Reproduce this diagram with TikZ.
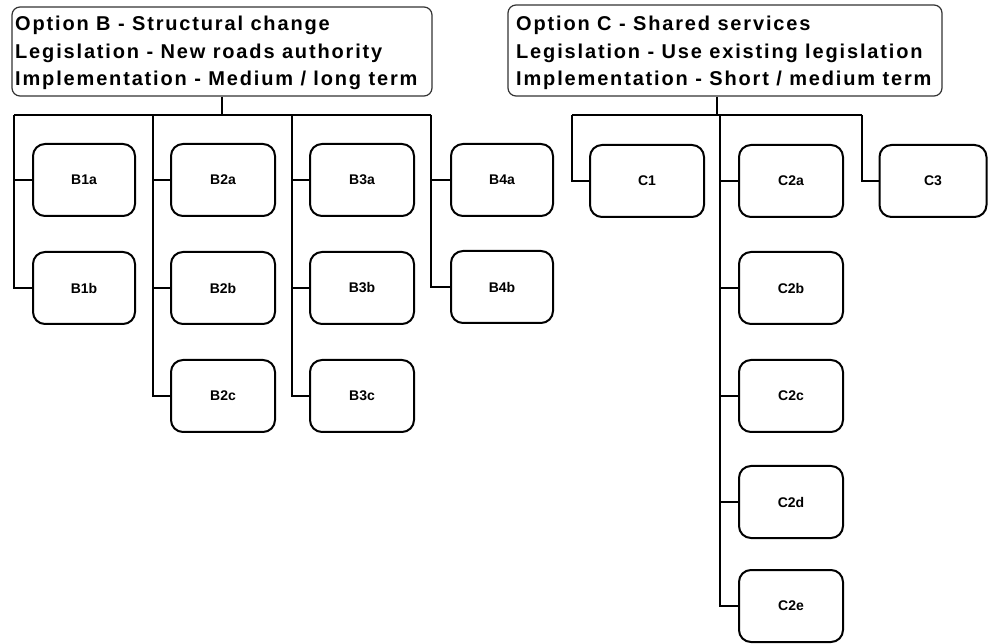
\documentclass[tikz,border=0pt]{standalone}
\usepackage{fontspec}
\setmainfont{Liberation Sans}
\newfontfamily\hdrfont[LetterSpace=9.2]{Liberation Sans}
\begin{document}
\begin{tikzpicture}[x=1pt,y=-1pt,
  hdrbox/.style={draw=black!80, line width=1.2pt, rounded corners=8pt, fill=white, inner sep=0pt},
  hdrtext/.style={anchor=base west, inner sep=0pt, font=\hdrfont\fontsize{20}{24}\selectfont\bfseries},
  childbox/.style={draw=black, line width=2pt, rounded corners=12pt, fill=white, minimum height=72pt, inner sep=0pt, font=\fontsize{14}{16}\selectfont\bfseries},
  wire/.style={draw=black, line width=2pt}
]
\useasboundingbox (0,0) rectangle (989,644);

% headers
\node[hdrbox, minimum width=420pt, minimum height=89pt] (hB) at (222,51.5) {};
\node[hdrtext] (hB1) at (15,31) {Option B - Structural change};
\node[hdrtext] (hB2) at (15,58.5) {Legislation - New roads authority};
\node[hdrtext] (hB3) at (15,86) {Implementation - Medium / long term};

\node[hdrbox, minimum width=434pt, minimum height=91pt] (hC) at (725,50.5) {};
\node[hdrtext] (hC1) at (516,31) {Option C - Shared services};
\node[hdrtext] (hC2) at (516,58.5) {Legislation - Use existing legislation};
\node[hdrtext] (hC3) at (516,86) {Implementation - Short / medium term};

% bus coordinates
\coordinate (jB) at (222,115);
\coordinate (jC) at (717,115);
\coordinate (tB1) at (14,115);
\coordinate (tB2) at (153,115);
\coordinate (tB3) at (292,115);
\coordinate (tB4) at (431,115);
\coordinate (tC1) at (572,115);
\coordinate (tC2) at (720,115);
\coordinate (tC3) at (862,115);

% child boxes
\node[childbox, minimum width=102pt] (B1a) at (84,180) {B1a};
\node[childbox, minimum width=102pt] (B1b) at (84,288) {B1b};
\node[childbox, minimum width=104pt] (B2a) at (223,180) {B2a};
\node[childbox, minimum width=104pt] (B2b) at (223,288) {B2b};
\node[childbox, minimum width=104pt] (B2c) at (223,396) {B2c};
\node[childbox, minimum width=104pt] (B3a) at (362,180) {B3a};
\node[childbox, minimum width=104pt] (B3b) at (362,288) {B3b};
\node[childbox, minimum width=104pt] (B3c) at (362,396) {B3c};
\node[childbox, minimum width=102pt] (B4a) at (502,180) {B4a};
\node[childbox, minimum width=102pt] (B4b) at (502,287) {B4b};

\node[childbox, minimum width=114pt] (C1) at (647,181) {C1};
\node[childbox, minimum width=104pt] (C2a) at (791,181) {C2a};
\node[childbox, minimum width=104pt] (C2b) at (791,288) {C2b};
\node[childbox, minimum width=104pt] (C2c) at (791,396) {C2c};
\node[childbox, minimum width=104pt] (C2d) at (791,502) {C2d};
\node[childbox, minimum width=104pt] (C2e) at (791,606) {C2e};
\node[childbox, minimum width=107pt] (C3) at (933,181) {C3};

% connectors
\draw[wire] (hB.south) -- (jB);
\draw[wire] (tB1) -- (tB4);
\draw[wire] (tB1) |- (B1a.west);
\draw[wire] (tB1) |- (B1b.west);
\draw[wire] (tB2) |- (B2a.west);
\draw[wire] (tB2) |- (B2b.west);
\draw[wire] (tB2) |- (B2c.west);
\draw[wire] (tB3) |- (B3a.west);
\draw[wire] (tB3) |- (B3b.west);
\draw[wire] (tB3) |- (B3c.west);
\draw[wire] (tB4) |- (B4a.west);
\draw[wire] (tB4) |- (B4b.west);

\draw[wire] (hC.south -| jC) -- (jC);
\draw[wire] (tC1) -- (tC3);
\draw[wire] (tC1) |- (C1.west);
\draw[wire] (tC2) |- (C2a.west);
\draw[wire] (tC2) |- (C2b.west);
\draw[wire] (tC2) |- (C2c.west);
\draw[wire] (tC2) |- (C2d.west);
\draw[wire] (tC2) |- (C2e.west);
\draw[wire] (tC3) |- (C3.west);
\end{tikzpicture}
\end{document}
